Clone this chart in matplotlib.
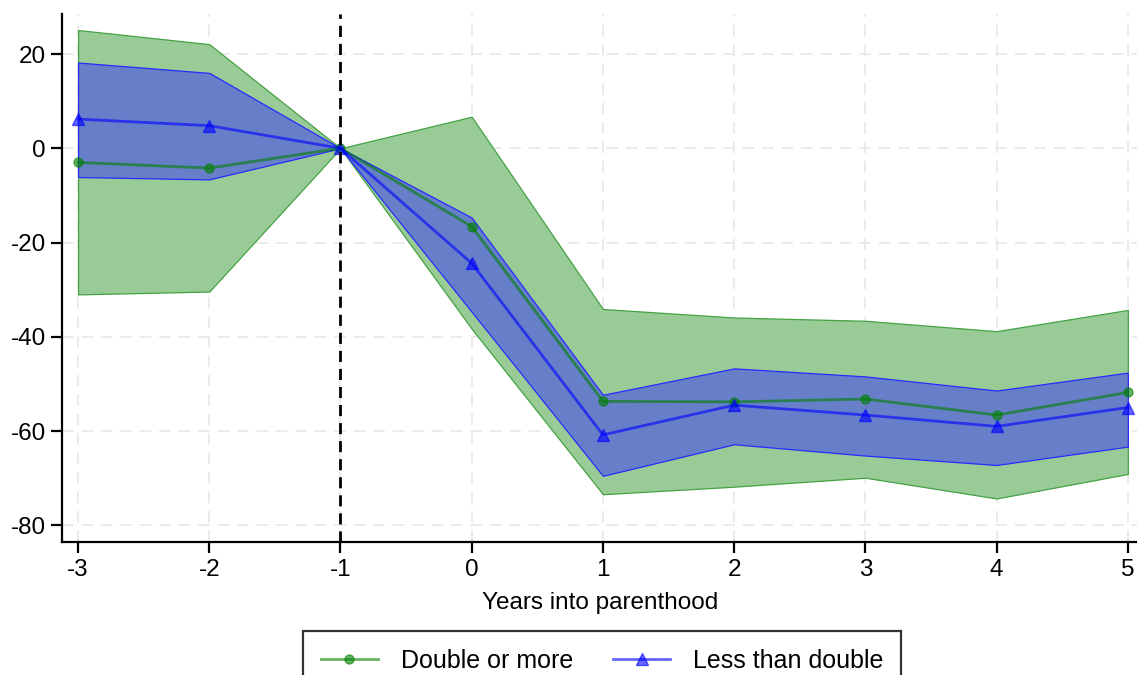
import matplotlib
matplotlib.use('Agg')
import matplotlib.pyplot as plt

plt.rcParams['font.family'] = ['Liberation Sans', 'DejaVu Sans']

years = [-3, -2, -1, 0, 1, 2, 3, 4, 5]

# Double or more: point estimates and 95% CI
dbl_est = [-3.0, -4.2, 0.0, -16.6, -53.7, -53.8, -53.2, -56.6, -51.8]
dbl_hi = [25.1, 22.1, 0.0, 6.7, -34.1, -35.9, -36.6, -38.8, -34.3]
dbl_lo = [-31.0, -30.4, 0.0, -38.3, -73.4, -71.8, -69.9, -74.3, -69.1]

# Less than double: point estimates and 95% CI
less_est = [6.2, 4.8, 0.0, -24.4, -60.8, -54.5, -56.6, -59.0, -55.0]
less_hi = [18.2, 16.0, 0.0, -14.7, -52.3, -46.7, -48.4, -51.4, -47.6]
less_lo = [-6.1, -6.6, 0.0, -34.7, -69.5, -62.8, -65.2, -67.2, -63.3]

x_ticks = [-3, -2, -1, 0, 1, 2, 3, 4, 5]
y_ticks = [20, 0, -20, -40, -60, -80]

fig = plt.figure(figsize=(11.37, 6.75), dpi=100)
ax = fig.add_axes([0.0548, 0.1966, 0.9452, 0.7827])

# confidence bands
ax.fill_between(years, dbl_lo, dbl_hi, facecolor='#99cb97', edgecolor='#44a244',
                linewidth=0.9, zorder=2)
ax.fill_between(years, less_lo, less_hi, facecolor='#667fc8', edgecolor='#2a2aff',
                linewidth=0.9, zorder=3)

ax.plot(years, dbl_est, color='green', alpha=0.6, linewidth=2, marker='o',
        markersize=6.5, label='Double or more', zorder=4)
ax.plot(years, less_est, color='blue', alpha=0.6, linewidth=2, marker='^',
        markersize=8, label='Less than double', zorder=5)

ax.axvline(-1, color='black', linestyle=(0, (4, 2.5)), linewidth=2, zorder=6)

ax.set_xlim(-3.12, 5.07)
ax.set_ylim(-83.6, 28.5)
ax.set_xticks(x_ticks)
ax.set_yticks(y_ticks)
ax.set_xticklabels([str(v) for v in x_ticks])
ax.set_yticklabels([str(v) for v in y_ticks])

ax.grid(True, color='#ebebeb', linestyle=(0, (6, 4)), linewidth=1.4, zorder=0)
ax.set_axisbelow(True)

for side in ['top', 'right']:
    ax.spines[side].set_visible(False)
for side in ['left', 'bottom']:
    ax.spines[side].set_linewidth(1.6)
    ax.spines[side].set_color('black')

ax.tick_params(axis='both', direction='out', length=8, width=1.6,
               labelsize=17.5, colors='black', pad=4)
ax.set_xlabel('Years into parenthood', fontsize=17.5, labelpad=8)

leg = fig.legend(loc='upper center', bbox_to_anchor=(602 / 1137, 44 / 675), ncol=2,
                 fontsize=18, frameon=True, fancybox=False, edgecolor='black',
                 handlelength=2.3, columnspacing=1.6, borderpad=0.7,
                 handletextpad=0.9, borderaxespad=0)
leg.get_frame().set_linewidth(1.6)

fig.savefig('out.png', dpi=100)
